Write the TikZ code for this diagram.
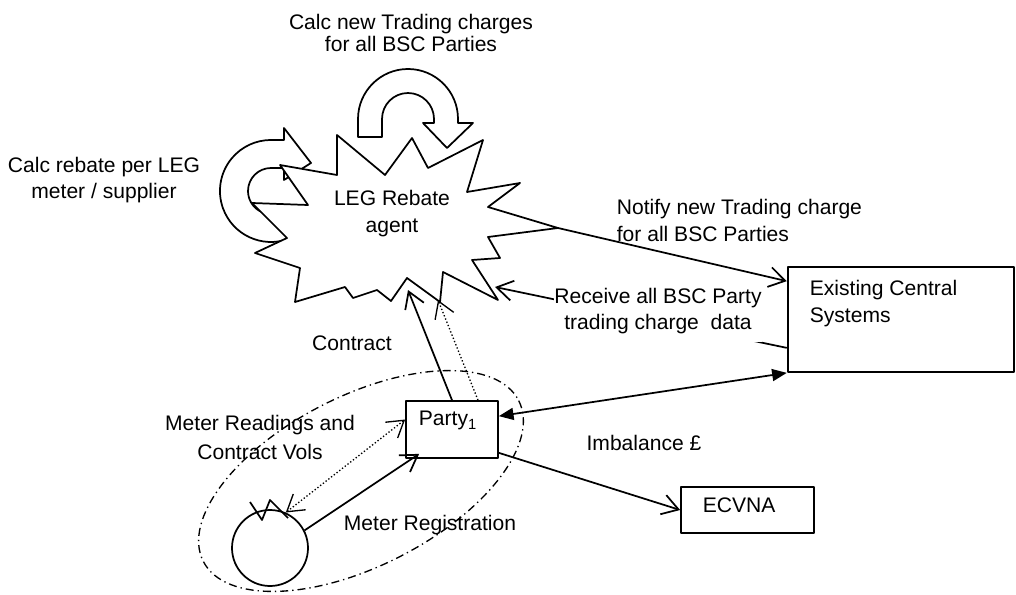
\documentclass[tikz,border=0pt]{standalone}
\usepackage{fontspec}
\setmainfont{Liberation Sans}
\usetikzlibrary{arrows.meta,calc}

\begin{document}
\begin{tikzpicture}[x=0.75pt,y=-0.75pt,line width=1.3pt,line join=round,
  every node/.style={font=\fontsize{15.8}{20}\selectfont,inner sep=0pt},
  box/.style={draw,rectangle},
  flow/.style={-{Straight Barb[length=12pt,width=15pt]}},
  dotflow/.style={flow,line width=1pt,dash pattern=on 1pt off 1.6pt},
  dotboth/.style={{Straight Barb[length=12pt,width=15pt]}-{Straight Barb[length=12pt,width=15pt]},line width=1pt,dash pattern=on 1pt off 1.6pt},
  bothflow/.style={{Triangle[length=11pt,width=9pt]}-{Triangle[length=11pt,width=9pt]}},
  blockarrow/.style={draw,fill=white}]
\useasboundingbox (0,0) rectangle (1016,595);

% curved block arrows
\draw[blockarrow] (358,137) -- (358,119) arc[start angle=180,end angle=360,radius=50]
  -- (458,123) -- (473,123) -- (447,148) -- (423,123) -- (434,123) -- (434,119)
  arc[start angle=360,end angle=180,radius=26] -- (382,137) -- cycle;
\draw[blockarrow] (288.4,238.9) arc[start angle=70,end angle=270,radius=51]
  -- (284,140) -- (284,128) -- (311,163) -- (284,180) -- (284,168) -- (271,168)
  arc[start angle=270,end angle=70,radius=23] -- cycle;

% the agent
\draw[fill=white] (280,165) -- (337,175) -- (337,135) -- (385,175) -- (412,138)
  -- (428,168) -- (483,140) -- (467,192) -- (520,183) -- (488,207) -- (558,228)
  -- (488,237) -- (500,258) -- (472,260) -- (498,300) -- (443,272) -- (440,302)
  -- (407,278) -- (391,301) -- (377,290) -- (353,298) -- (345,287) -- (295,302)
  -- (300,268) -- (255,253) -- (287,238) -- (252,203) -- (308,205) -- cycle;
\coordinate (agentE) at (558,228);
\coordinate (agentSE) at (495,287);
\coordinate (agentS) at (408,290);
\coordinate (agentSS) at (438,300);

% boxes
\node[box,minimum width=69pt,minimum height=42.75pt] (party) at (452,429.5) {};
\node[box,minimum width=170pt,minimum height=78.75pt] (central) at (901,319.5) {};
\node[box,minimum width=99.75pt,minimum height=34.5pt] (ecvna) at (747.5,510) {};
\node[draw,circle,minimum size=57pt] (meter) at (270,548) {};
\draw (250,502) -- (262,520) -- (270,500) -- (288,518);

% group
\draw[line width=1pt,dash pattern=on 6pt off 3pt on 1pt off 3pt,rotate around={27:(361,481)}]
  (361,481) ellipse [x radius=177,y radius=85];

% connectors
\draw[flow] (agentE) -- ($(central.north west)+(0,15)$);
\draw[flow] ($(central.south west)+(0,-25)$) -- (agentSE);
\draw[flow] (party.north) -- (agentS);
\draw[dotflow] ($(party.north)+(26,0)$) -- (agentSS);
\draw[bothflow] ($(party.north east)+(0,16)$) -- (central.south west);
\draw[flow] ($(party.south east)+(0,-6)$) -- (ecvna.west);
\draw[flow] (meter.27) -- ($(party.south west)+(14,-5)$);
\draw[dotboth] (meter.66) -- ($(party.west)+(0,-10)$);

% labels
\node[align=center,font=\fontsize{15.8}{16.5}\selectfont] (calcnew) at (411,32.5) {Calc new Trading charges\\for all BSC Parties};
\node[align=center] (calcrebate) at (104,180) {Calc rebate per LEG\\meter / supplier};
\node[align=center] (agentlbl) at (392,213.5) {LEG Rebate\\agent};
\node[align=left,anchor=west] (notifylbl) at (616,220.5) {Notify new Trading charge\\for all BSC Parties};
\node[align=center,fill=white,minimum width=154pt,minimum height=47pt] (receivelbl) at (658,311) {Receive all BSC Party\\trading charge~~data};
\node[anchor=base] (contractlbl) at (352,350.5) {Contract};
\node[align=center,font=\fontsize{15.8}{21.5}\selectfont] (readlbl) at (260,437.5) {Meter Readings and\\Contract Vols};
\node[anchor=base] (reglbl) at (430,530.5) {Meter Registration};
\node[anchor=base] (imblbl) at (644,450.5) {Imbalance £};
\node[align=left,anchor=west] (centrallbl) at (809,303.5) {Existing Central\\Systems};
\node[anchor=base west] (ecvnalbl) at (702,512.5) {ECVNA};
\node[anchor=base west] (partylbl) at (418,425.5) {Party\textsubscript{1}};
\end{tikzpicture}
\end{document}
